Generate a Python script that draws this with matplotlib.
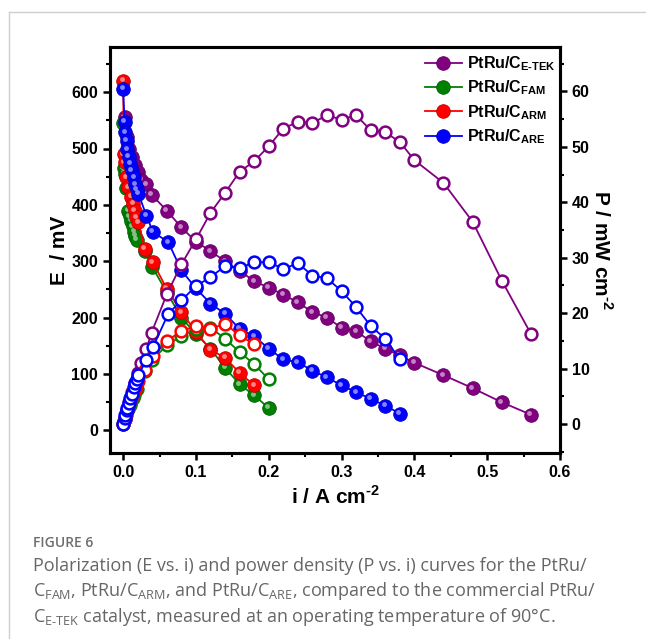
import matplotlib
matplotlib.use('Agg')
import matplotlib.pyplot as plt
from matplotlib.lines import Line2D
from matplotlib.ticker import MultipleLocator, FormatStrFormatter
from matplotlib.transforms import offset_copy
import matplotlib.colors as mcolors

# E-TEK (purple)
i_etek = [0.002, 0.005, 0.008, 0.012, 0.016, 0.020, 0.025, 0.032, 0.039, 0.06, 0.08, 0.10,
          0.12, 0.14, 0.16, 0.18, 0.20, 0.22, 0.24, 0.26, 0.28, 0.30, 0.32, 0.34, 0.36, 0.38,
          0.40, 0.44, 0.48, 0.52, 0.56]
E_etek = [555, 520, 500, 485, 470, 458, 445, 437, 418, 390, 360, 335,
          318, 300, 283, 265, 253, 241, 227, 210, 200, 182, 176, 158, 145, 133,
          120, 98, 75, 50, 28]
P_etek = [1.1, 2.6, 4.0, 5.8, 7.5, 9.2, 11.1, 13.5, 16.5, 23.4, 28.8, 33.3,
          38.1, 41.7, 45.5, 47.4, 50.1, 53.3, 54.5, 54.3, 55.7, 54.9, 55.7, 53.0, 52.6, 50.9,
          47.6, 43.5, 36.5, 25.9, 16.3]

# FAM (green)
i_fam = [0.0, 0.001, 0.002, 0.004, 0.007, 0.009, 0.011, 0.013, 0.015, 0.017, 0.019,
         0.03, 0.04, 0.06, 0.08, 0.10, 0.12, 0.14, 0.16, 0.18, 0.20]
E_fam = [545, 465, 455, 430, 390, 380, 372, 362, 352, 345, 338,
         318, 290, 245, 200, 171, 145, 111, 82, 62, 40]
P_fam = [0.0, 0.5, 0.9, 1.7, 2.7, 3.4, 4.1, 4.7, 5.3, 5.9, 6.4,
         9.5, 11.6, 14.2, 15.9, 17.1, 17.4, 15.4, 13.0, 10.8, 8.1]

# ARM (red)
i_arm = [0.0, 0.001, 0.002, 0.004, 0.007, 0.011, 0.014, 0.016, 0.018, 0.021,
         0.03, 0.041, 0.06, 0.08, 0.10, 0.12, 0.14, 0.16, 0.18]
E_arm = [620, 490, 476, 449, 431, 414, 402, 390, 378, 369,
         322, 298, 251, 210, 175, 143, 129, 102, 80]
P_arm = [0.0, 0.5, 1.0, 1.8, 3.0, 4.6, 5.6, 6.2, 6.8, 7.7,
         9.7, 12.2, 15.0, 16.8, 17.7, 17.2, 18.1, 16.0, 14.4]

# ARE (blue)
i_are = [0.0, 0.002, 0.003, 0.005, 0.006, 0.008, 0.010, 0.012, 0.015, 0.017, 0.019, 0.021,
         0.032, 0.041, 0.062, 0.08, 0.10, 0.12, 0.14, 0.16, 0.18, 0.20, 0.22, 0.24,
         0.26, 0.28, 0.30, 0.32, 0.34, 0.36, 0.38]
E_are = [606, 547, 529, 514, 499, 485, 473, 461, 449, 437, 428, 420,
         381, 352, 334, 284, 252, 225, 207, 180, 167, 145, 126, 121,
         106, 94, 80, 68, 56, 44, 30]
P_are = [0.0, 1.1, 1.6, 2.6, 3.0, 3.9, 4.7, 5.5, 6.7, 7.4, 8.1, 8.9,
         11.5, 13.9, 19.9, 22.3, 24.9, 26.5, 28.5, 28.1, 29.2, 29.2, 28.0, 29.0,
         26.8, 26.3, 24.0, 21.1, 17.7, 15.4, 11.7]

HY = '\u2010'  # short hyphen, mathtext would turn '-' into a wide minus
labels = [r'PtRu/C$_{\mathregular{E' + HY + r'TEK}}$', r'PtRu/C$_{\mathregular{FAM}}$',
          r'PtRu/C$_{\mathregular{ARM}}$', r'PtRu/C$_{\mathregular{ARE}}$']
cols = ['#800080', '#008000', '#ff0000', '#0000ff']

W, H = 646, 639
fig = plt.figure(figsize=(W / 100, H / 100), dpi=100)
ax = fig.add_axes([110 / W, 1 - 453 / H, 450 / W, (453 - 47) / H])
ax2 = ax.twinx()

hl = offset_copy(ax.transData, fig=fig, x=-1.5, y=1.5, units='dots')
series = [(i_etek, E_etek, P_etek), (i_fam, E_fam, P_fam),
          (i_arm, E_arm, P_arm), (i_are, E_are, P_are)]
handles = []
for (x, e, p), c, lab in zip(series, cols, labels):
    dark = [v * 0.75 for v in mcolors.to_rgb(c)]
    light = [v + (1 - v) * 0.65 for v in mcolors.to_rgb(c)]
    h, = ax.plot(x, e, '-o', color=c, lw=1.3, ms=9.8, mfc=c, mec=dark, mew=0.6, label=lab)
    ax.plot(x, e, 'o', ms=3.5, mfc=light, mec='none', alpha=0.8, transform=hl)
    ax2.plot(x, p, '-o', color=c, lw=1.3, ms=8.5, mfc='white', mec=c, mew=1.8)
    handles.append(h)

ax.set_xlim(-0.018, 0.6)
ax.set_ylim(-40, 680)
ax2.set_ylim(-5.2, 68)

ax.xaxis.set_major_locator(MultipleLocator(0.1))
ax.xaxis.set_minor_locator(MultipleLocator(0.05))
ax.yaxis.set_minor_locator(MultipleLocator(50))
ax2.yaxis.set_minor_locator(MultipleLocator(5))
ax.xaxis.set_major_formatter(FormatStrFormatter('%.1f'))
ax.set_yticks([0, 100, 200, 300, 400, 500, 600])
ax2.set_yticks([0, 10, 20, 30, 40, 50, 60])
ax.yaxis.set_major_formatter(FormatStrFormatter('%d'))
ax2.yaxis.set_major_formatter(FormatStrFormatter('%d'))

for a in (ax, ax2):
    for s in a.spines.values():
        s.set_linewidth(2.2)
    a.tick_params(which='major', length=5, width=1.8, labelsize=11.5, direction='out')
    a.tick_params(which='minor', length=3, width=1.5, direction='out')
    for t in a.get_xticklabels() + a.get_yticklabels():
        t.set_fontweight('bold')
        t.set_family('Liberation Sans')
ax.tick_params(top=False, right=False, which='both')
ax2.tick_params(left=False, which='both')

lf = dict(family='Liberation Sans', weight='bold', size=15)
ax.set_xlabel(r'i / A cm$^{\mathregular{' + HY + '2}}$', fontdict=lf, labelpad=4)
ax.set_ylabel('E  / mV', fontdict=lf, labelpad=2)
ax2.set_ylabel(r'P / mW cm$^{\mathregular{' + HY + '2}}$', fontdict=lf, rotation=-90, labelpad=17)

leg = ax2.legend(handles, labels, loc='upper right', bbox_to_anchor=(1.022, 1.017),
                 frameon=False, handlelength=2.3, handletextpad=0.3, labelspacing=0.35,
                 prop=dict(family='Liberation Sans', weight='bold', size=11.5))

# card border
fig.add_artist(Line2D([9 / W, 9 / W], [0, 1 - 12 / H], color='#cfcfcf', lw=1))
fig.add_artist(Line2D([9 / W, 1], [1 - 12 / H, 1 - 12 / H], color='#cfcfcf', lw=1))

cap = dict(family='Open Sans', size=13, color='#666666', va='baseline')
fig.text(33 / W, 1 - 547 / H, 'FIGURE 6', family='Open Sans', weight='semibold',
         size=10, color='#6e6e6e', va='baseline')
fig.text(33 / W, 1 - 571 / H,
         'Polarization (E vs. i) and power density (P vs. i) curves for the PtRu/', **cap)
fig.text(33 / W, 1 - 596 / H,
         r'C$_{\mathregular{FAM}}$, PtRu/C$_{\mathregular{ARM}}$, and PtRu/C$_{\mathregular{ARE}}$, '
         'compared to the commercial PtRu/', **cap)
fig.text(33 / W, 1 - 622 / H,
         r'C$_{\mathregular{E' + HY + r'TEK}}$ catalyst, measured at an operating temperature of 90°C.',
         **cap)

fig.savefig('out.png', dpi=100)
